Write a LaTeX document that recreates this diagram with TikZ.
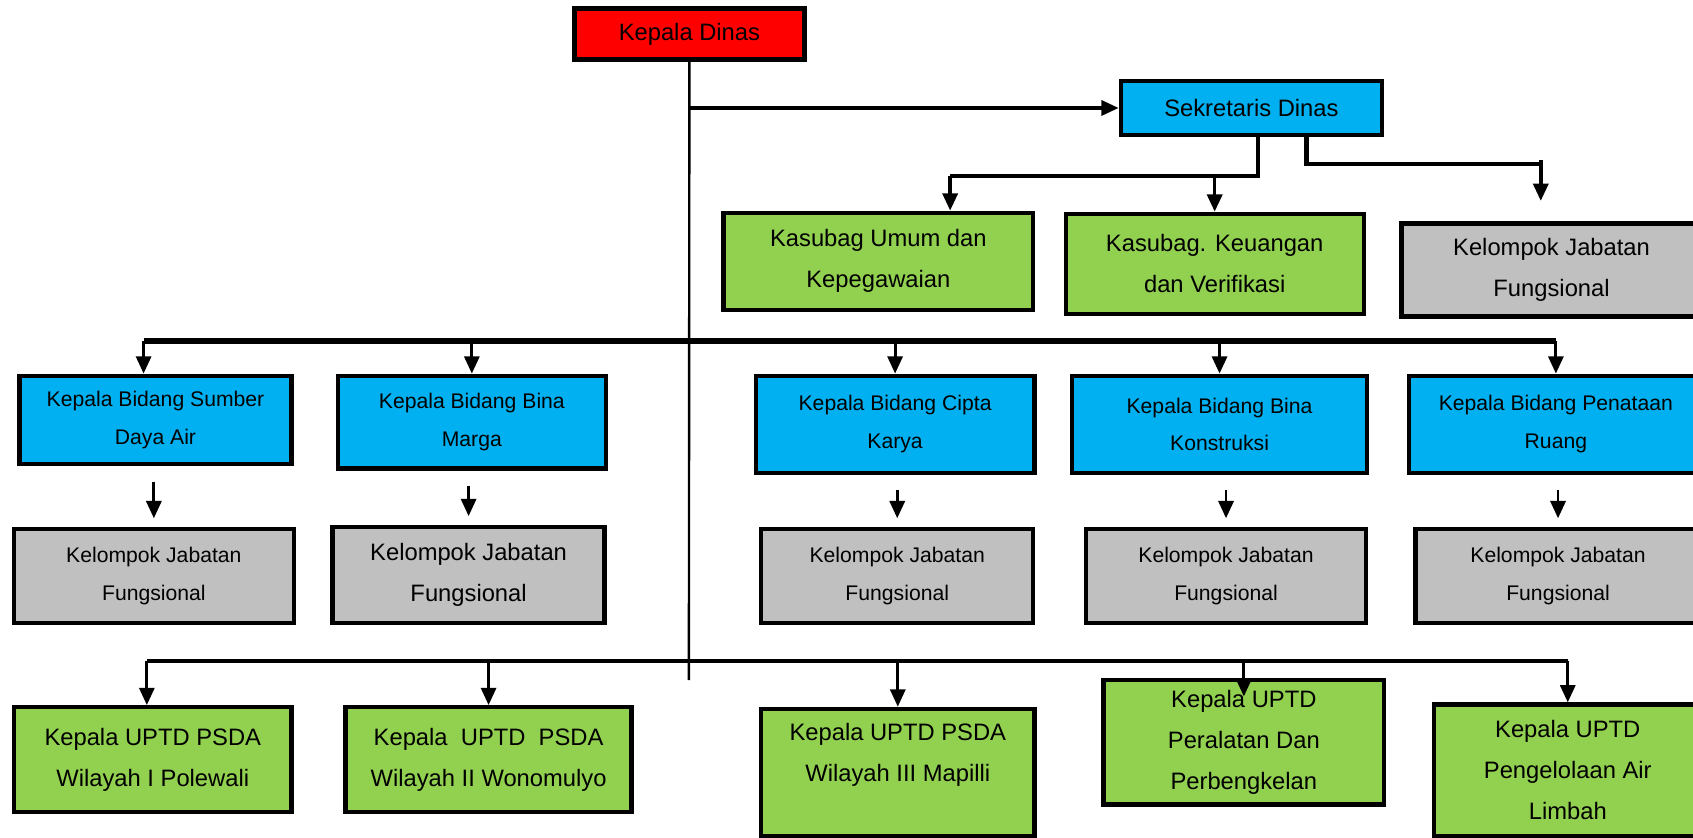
\documentclass[tikz,border=0pt]{standalone}
\usepackage{fontspec}
\setmainfont{Liberation Sans}
\usepackage{tikz}
\usetikzlibrary{arrows.meta}

\definecolor{kred}{HTML}{FF0000}
\definecolor{kblue}{HTML}{00B0F0}
\definecolor{kgreen}{HTML}{92D050}
\definecolor{kgrey}{HTML}{C0C0C0}

\begin{document}
\begin{tikzpicture}[x=0.5pt, y=-0.5pt,
	box/.style={draw, line width=2pt, align=center, inner sep=0},
	bigbox/.style={box, font=\fontsize{11}{19}\selectfont},
	smallbox/.style={box, font=\fontsize{9.8}{17.5}\selectfont},
	arr/.style={-{Triangle[width=7pt,length=8pt]}, line width=1.3pt},
	bar/.style={line width=2pt}
]
\useasboundingbox (0,0) rectangle (1568,776);

% top
\node[bigbox, fill=kred, minimum width=106.5pt, minimum height=23.5pt] (kadis) at (638.5,31.5) {Kepala Dinas};
\node[bigbox, fill=kblue, minimum width=121pt, minimum height=25pt] (sekre) at (1159,100) {Sekretaris Dinas};

\node[bigbox, fill=kgreen, minimum width=143.5pt, minimum height=45pt] (kumum) at (813.5,242) {Kasubag Umum dan\\Kepegawaian};
\node[bigbox, fill=kgreen, minimum width=138pt, minimum height=46.5pt] (kkeu) at (1125,244.5) {Kasubag. Keuangan\\dan Verifikasi};
\node[bigbox, fill=kgrey, minimum width=139pt, minimum height=43pt] (jfsek) at (1437,250) {Kelompok Jabatan\\Fungsional};

% bidang
\node[smallbox, fill=kblue, minimum width=126pt, minimum height=41pt] (b1) at (144,389) {Kepala Bidang Sumber\\Daya Air};
\node[smallbox, fill=kblue, minimum width=124pt, minimum height=43pt] (b2) at (437,391) {Kepala Bidang Bina\\Marga};
\node[smallbox, fill=kblue, minimum width=129pt, minimum height=45pt] (b3) at (829,393) {Kepala Bidang Cipta\\Karya};
\node[smallbox, fill=kblue, minimum width=136.5pt, minimum height=45pt] (b4) at (1129.5,393) {Kepala Bidang Bina\\Konstruksi};
\node[smallbox, fill=kblue, minimum width=136pt, minimum height=45pt] (b5) at (1441,393) {Kepala Bidang Penataan\\Ruang};

% kelompok jabatan
\node[smallbox, fill=kgrey, minimum width=129.5pt, minimum height=43.5pt] (k1) at (142.5,533.5) {Kelompok Jabatan\\Fungsional};
\node[bigbox, fill=kgrey, minimum width=126pt, minimum height=44.5pt] (k2) at (434,532.5) {Kelompok Jabatan\\Fungsional};
\node[smallbox, fill=kgrey, minimum width=126pt, minimum height=43.5pt] (k3) at (831,533.5) {Kelompok Jabatan\\Fungsional};
\node[smallbox, fill=kgrey, minimum width=129.5pt, minimum height=43.5pt] (k4) at (1135.5,533.5) {Kelompok Jabatan\\Fungsional};
\node[smallbox, fill=kgrey, minimum width=132pt, minimum height=43.5pt] (k5) at (1443,533.5) {Kelompok Jabatan\\Fungsional};

% uptd
\node[bigbox, fill=kgreen, minimum width=128.5pt, minimum height=48.5pt] (u1) at (141.5,703.5) {Kepala UPTD PSDA\\Wilayah I Polewali};
\node[bigbox, fill=kgreen, minimum width=132.5pt, minimum height=48.5pt] (u2) at (452.5,703.5) {Kepala\ \ UPTD\ \ PSDA\\Wilayah II Wonomulyo};
\node[bigbox, fill=kgreen, minimum width=126.5pt, minimum height=59pt] (u3) at (831.5,715.5) {Kepala UPTD PSDA\\Wilayah III Mapilli\\\mbox{}};
\node[bigbox, fill=kgreen, minimum width=130pt, minimum height=57.5pt] (u4) at (1152,687.5) {Kepala UPTD\\Peralatan Dan\\Perbengkelan};
\node[bigbox, fill=kgreen, minimum width=124pt, minimum height=61pt] (u5) at (1452,713.5) {Kepala UPTD\\Pengelolaan Air\\Limbah};

\coordinate (mainend) at (638,630);
\coordinate (sekbar) at (880,163);
\coordinate (jfbar) at (1427,152);
\coordinate (jfend) at (1427,186);
\coordinate (bidbar) at (133,316);
\coordinate (uptbar) at (136,612);

% lines
\draw[line width=1.1pt] (kadis.south) -- (mainend);
\draw[arr, line width=1.5pt] (kadis.south |- sekre.west) -- (sekre.west);

\draw[bar] ([xshift=3pt]sekre.south) |- (sekbar);
\draw[arr, line width=1.6pt] (sekbar) -- (sekbar |- kumum.north);
\draw[arr, line width=1.6pt] (kkeu.north |- sekbar) -- (kkeu.north);
\draw[bar] ([xshift=25.5pt]sekre.south) |- (jfbar);
\draw[arr, line width=1.6pt] ([yshift=2pt]jfbar) -- (jfend);

\draw[line width=2.6pt] (bidbar) -- (b5.north |- bidbar);
\draw[arr] (bidbar) -- (bidbar |- b1.north);
\foreach \b in {b2,b3,b4,b5}
	\draw[arr] (\b.north |- bidbar) -- (\b.north);

\foreach \b/\k in {b1/k1,b2/k2,b3/k3,b4/k4,b5/k5}
	\draw[arr, shorten <=7pt, shorten >=4pt] (\k.north |- \b.south) -- (\k.north);

\draw[line width=1.6pt] (uptbar) -- (u5.north |- uptbar);
\draw[arr] (uptbar) -- (uptbar |- u1.north);
\foreach \u in {u2,u3,u5}
	\draw[arr] (\u.north |- uptbar) -- (\u.north);
\draw[arr] (u4.north |- uptbar) -- ([yshift=-8.5pt]u4.north);

\end{tikzpicture}
\end{document}
